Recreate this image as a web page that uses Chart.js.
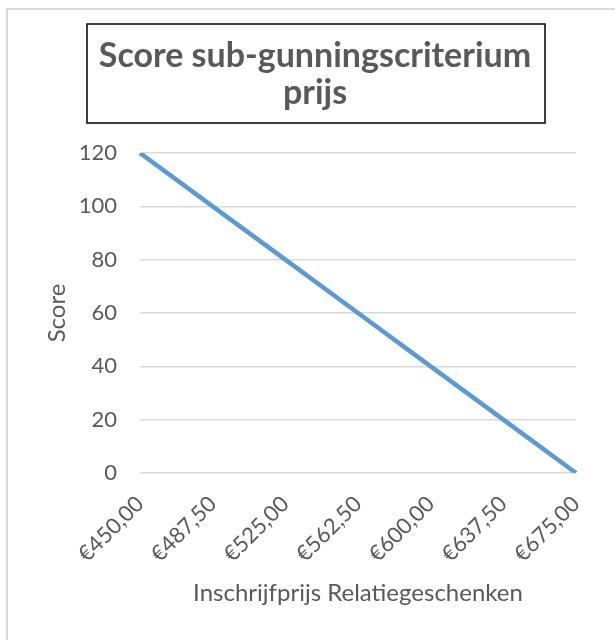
<!DOCTYPE html>
<html>
<head>
<meta charset="utf-8">
<title>Score sub-gunningscriterium prijs</title>
<script src="https://cdn.jsdelivr.net/npm/chart.js@4.4.1/dist/chart.umd.min.js"></script>
<style>
  html, body { margin: 0; padding: 0; background: #fff; }
  #wrap { position: relative; width: 615px; height: 640px; overflow: hidden; }
  #frame { position: absolute; left: 6px; top: 8px; width: 640px; height: 660px; border: 2px solid #d9d9d9; box-sizing: border-box; }
  canvas { position: absolute; left: 0; top: 0; }
</style>
</head>
<body>
<div id="wrap">
  <div id="frame"></div>
  <canvas id="chart" width="615" height="640"></canvas>
</div>
<script>
// data
const prices = ['€450,00', '€487,50', '€525,00', '€562,50', '€600,00', '€637,50', '€675,00'];
const scores = [120, 100, 80, 60, 40, 20, 0];
const titleLines = ['Score sub-gunningscriterium', 'prijs'];
const xTitle = 'Inschrijfprijs Relatiegeschenken';
const yTitle = 'Score';

const textColor = '#595959';
const fontFamily = 'Lato, "Open Sans", sans-serif';

// Excel style boxed chart title
const titleBox = {
  id: 'titleBox',
  afterDraw(chart) {
    const ctx = chart.ctx;
    ctx.save();
    ctx.strokeStyle = '#000';
    ctx.lineWidth = 1.5;
    ctx.strokeRect(87, 24, 458, 99);
    ctx.fillStyle = textColor;
    ctx.font = 'bold 34px ' + fontFamily;
    ctx.textAlign = 'center';
    ctx.textBaseline = 'alphabetic';
    titleLines.forEach((line, i) => {
      ctx.fillText(line, 315, 67 + i * 37);
    });
    ctx.restore();
  }
};

new Chart(document.getElementById('chart'), {
  type: 'line',
  data: {
    labels: prices,
    datasets: [{
      label: yTitle,
      data: scores,
      borderColor: '#5B9BD5',
      backgroundColor: '#5B9BD5',
      borderWidth: 4.5,
      pointRadius: 0,
      tension: 0,
    }],
  },
  options: {
    responsive: false,
    animation: false,
    layout: { padding: { left: 0, right: 39, top: 153, bottom: 0 } },
    plugins: {
      legend: { display: false },
      title: { display: false },
      tooltip: { enabled: false },
    },
    scales: {
      x: {
        offset: false,
        afterFit: (s) => { s.height = 167; },
        grid: { display: false },
        border: { display: false },
        ticks: {
          color: textColor,
          font: { family: fontFamily, size: 22 },
          minRotation: 45,
          maxRotation: 45,
          autoSkip: false,
          padding: 10,
        },
        title: {
          display: true,
          text: xTitle,
          color: textColor,
          font: { family: fontFamily, size: 24 },
          padding: { top: 0, bottom: 32 },
        },
      },
      y: {
        min: 0,
        max: 120,
        afterFit: (s) => { s.width = 140; },
        grid: { color: '#d9d9d9', lineWidth: 1.5, drawTicks: false },
        border: { display: false },
        ticks: {
          stepSize: 20,
          color: textColor,
          font: { family: fontFamily, size: 22 },
          padding: 23,
        },
        title: {
          display: true,
          text: yTitle,
          color: textColor,
          font: { family: fontFamily, size: 24 },
          padding: { top: 43, bottom: 0 },
        },
      },
    },
  },
  plugins: [titleBox],
});
</script>
</body>
</html>
